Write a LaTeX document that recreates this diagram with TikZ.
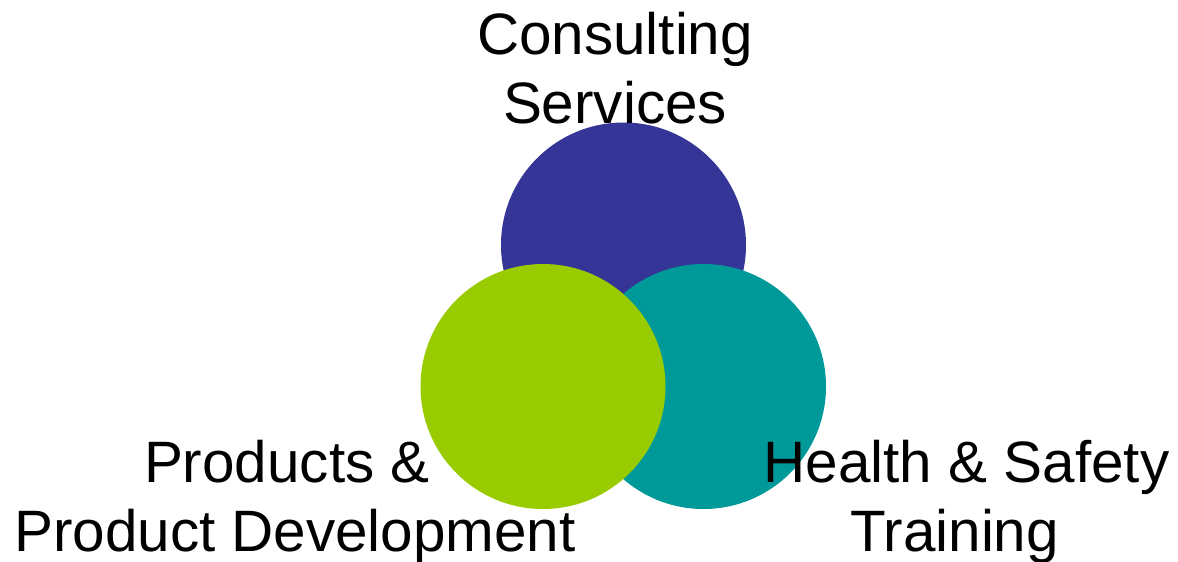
\documentclass[tikz,border=0pt]{standalone}
\usepackage{fontspec}
\setmainfont{Liberation Sans}
\definecolor{consultblue}{HTML}{353597}
\definecolor{trainteal}{HTML}{009999}
\definecolor{prodgreen}{HTML}{99CC00}
\begin{document}
\begin{tikzpicture}[
  x=0.5pt, y=-0.5pt,
  bubble/.style={circle, draw=none, minimum size=122.5pt, inner sep=0pt},
  caption/.style={align=center, anchor=base, inner sep=0pt, font=\fontsize{29.2}{34.5}\selectfont}
]
\useasboundingbox (0,0) rectangle (1178,562);
\node[bubble, fill=consultblue] (consult) at (623.5,245) {};
\node[bubble, fill=trainteal] (train) at (703.5,386.5) {};
\node[bubble, fill=prodgreen] (prod) at (543,386.5) {};

\node[caption] (consulttext) at (615,123) {Consulting\\Services};
\node[caption] (prodtext) at (295,551) {Products \&\hspace*{0.28em}\\Product Development};
\node[caption] (traintext) at (966.5,551) {Health \& Safety\\Training\hspace*{0.41em}};
\end{tikzpicture}
\end{document}
